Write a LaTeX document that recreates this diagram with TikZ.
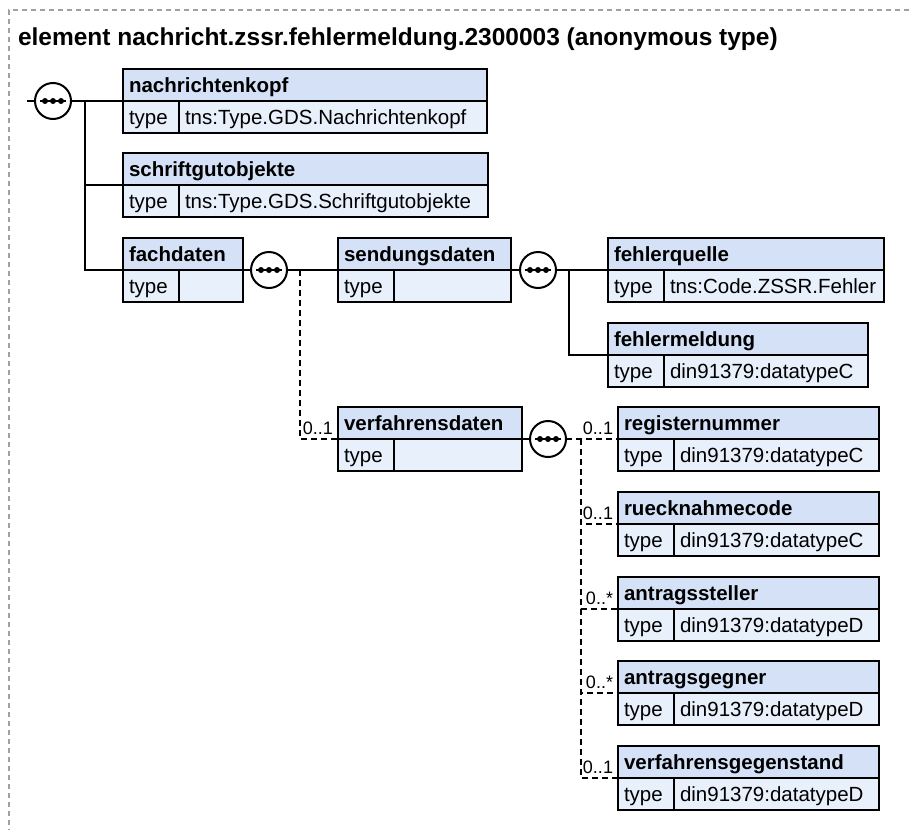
\documentclass[tikz,border=0pt]{standalone}
\usepackage{fontspec}
\setmainfont{Liberation Sans}

\definecolor{headblue}{RGB}{212,225,247}
\definecolor{cellblue}{RGB}{232,240,252}
\definecolor{framegray}{RGB}{160,160,160}

% element box: header with name, row with "type" and its value
\newcommand{\xsdelem}[6]{%
  \pgfmathsetmacro{\headw}{#4-12}%
  \pgfmathsetmacro{\valw}{#4-56-12}%
  \node[elhead, text width=\headw pt] (#1) at (#2,#3) {#5};
  \node[elcell, text width=44pt] (#1-t) at (#1.south west) {type};
  \node[elcell, text width=\valw pt] (#1-v) at (#1-t.north east) {#6};%
}

\begin{document}
\begin{tikzpicture}[x=1pt, y=-1pt, line width=2pt,
  elhead/.style={draw, fill=headblue, anchor=north west, align=left,
    inner xsep=6pt, inner ysep=0pt, outer sep=0pt, minimum height=32pt,
    text height=16pt, text depth=2pt, font=\fontsize{20.5}{24}\selectfont\bfseries},
  elcell/.style={draw, fill=cellblue, anchor=north west, align=left,
    inner xsep=6pt, inner ysep=0pt, outer sep=0pt, minimum height=32pt,
    text height=16pt, text depth=2pt, font=\fontsize{20.5}{24}\selectfont},
  seqcirc/.style={circle, draw, fill=white, minimum size=36pt, inner sep=0pt, outer sep=0pt,
    path picture={
      \draw[black, solid, line width=1.5pt] ([xshift=-13pt]path picture bounding box.center)
        -- ([xshift=13pt]path picture bounding box.center);
      \fill[black] ([xshift=-8pt]path picture bounding box.center) circle (3pt);
      \fill[black] (path picture bounding box.center) circle (3pt);
      \fill[black] ([xshift=8pt]path picture bounding box.center) circle (3pt);}},
  opt/.style={dash pattern=on 6pt off 4pt},
  mult/.style={anchor=base east, inner sep=0pt, xshift=-4pt, yshift=5pt,
    font=\fontsize{18}{20}\selectfont}]

  \useasboundingbox (0,0) rectangle (909,830);

  % -- Frame and title --
  \draw[framegray, line width=1.5pt, dash pattern=on 5pt off 4pt] (909,10) -- (9,10) -- (9,830);
  \node[anchor=base west, inner sep=0pt, font=\fontsize{24.5}{28}\selectfont\bfseries] (title)
    at (17,45) {element nachricht.zssr.fehlermeldung.2300003 (anonymous type)};

  % -- Elements --
  \xsdelem{nk}{123}{69}{364}{nachrichtenkopf}{tns:Type.GDS.Nachrichtenkopf}
  \xsdelem{so}{123}{153}{365}{schriftgutobjekte}{tns:Type.GDS.Schriftgutobjekte}
  \xsdelem{fd}{123}{238}{120}{fachdaten}{}
  \xsdelem{sd}{338}{238}{173}{sendungsdaten}{}
  \xsdelem{fq}{608}{238}{276}{fehlerquelle}{tns:Code.ZSSR.Fehler}
  \xsdelem{fm}{608}{323}{260}{fehlermeldung}{din91379:datatypeC}
  \xsdelem{vd}{338}{407}{184}{verfahrensdaten}{}
  \xsdelem{rn}{618}{407}{261}{registernummer}{din91379:datatypeC}
  \xsdelem{rc}{618}{492}{261}{ruecknahmecode}{din91379:datatypeC}
  \xsdelem{as}{618}{577}{261}{antragssteller}{din91379:datatypeD}
  \xsdelem{ag}{618}{661}{261}{antragsgegner}{din91379:datatypeD}
  \xsdelem{vg}{618}{746}{261}{verfahrensgegenstand}{din91379:datatypeD}

  % -- Root sequence --
  \coordinate (rootin) at (27,101);
  \node[seqcirc] (seq0) at (53,101) {};
  \coordinate (bus0) at (85,101);
  \draw (rootin) -- (seq0);
  \draw (seq0) -- (nk.south west);
  \draw (bus0) |- (so.south west);
  \draw (bus0) |- (fd.south west);

  % -- fachdaten sequence --
  \node[seqcirc] (seq1) at (269,270) {};
  \coordinate (bus1) at (300,270);
  \draw (fd.south east) -- (seq1);
  \draw (seq1) -- (sd.south west);
  \draw[opt] (bus1) |- (vd.south west);
  \node[mult] (vd-m) at (vd.south west) {0..1};

  % -- sendungsdaten sequence --
  \node[seqcirc] (seq2) at (538,270) {};
  \coordinate (bus2) at (569,270);
  \draw (sd.south east) -- (seq2);
  \draw (seq2) -- (fq.south west);
  \draw (bus2) |- (fm.south west);

  % -- verfahrensdaten sequence --
  \node[seqcirc] (seq3) at (548,439) {};
  \coordinate (bus3) at (581,439);
  \draw (vd.south east) -- (seq3);
  \draw[opt] (seq3) -- (rn.south west);
  \draw[opt] (bus3) |- (rc.south west);
  \draw[opt] (bus3) |- (as.south west);
  \draw[opt] (bus3) |- (ag.south west);
  \draw[opt] (bus3) |- (vg.south west);
  \node[mult] (rn-m) at (rn.south west) {0..1};
  \node[mult] (rc-m) at (rc.south west) {0..1};
  \node[mult] (as-m) at (as.south west) {0..*};
  \node[mult] (ag-m) at (ag.south west) {0..*};
  \node[mult] (vg-m) at (vg.south west) {0..1};

\end{tikzpicture}
\end{document}
